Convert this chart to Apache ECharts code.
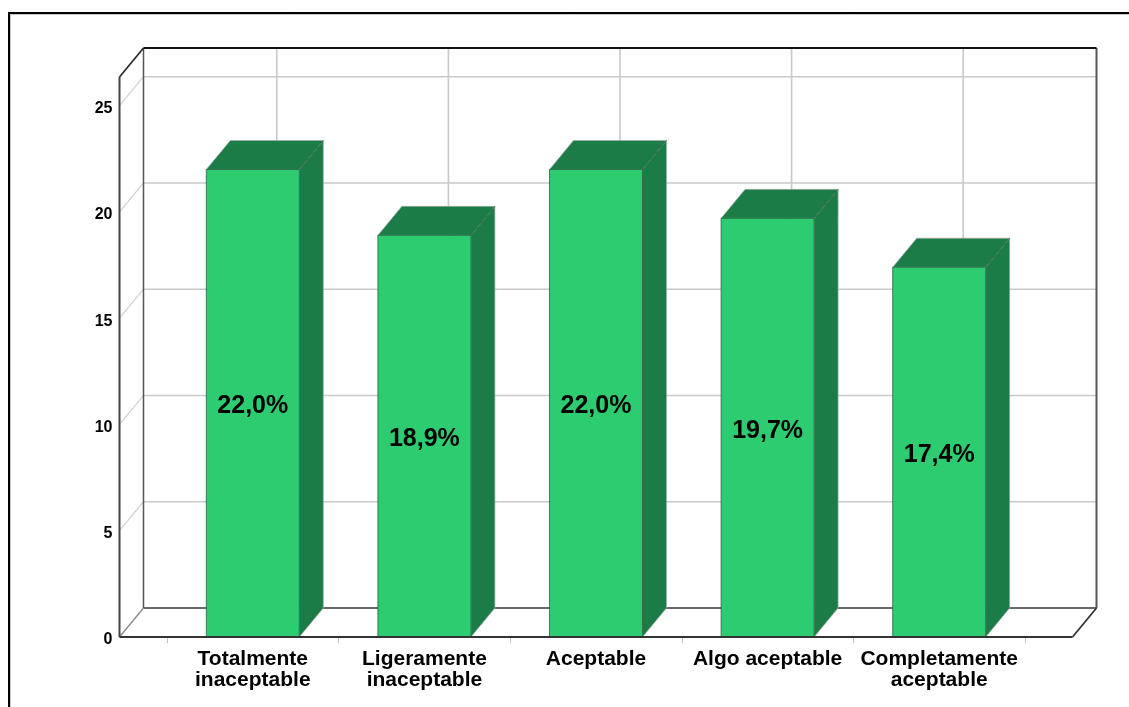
<!DOCTYPE html>
<html>
<head>
<meta charset="utf-8">
<style>html,body{margin:0;padding:0;background:#fff}#c{width:1129px;height:707px}</style>
<script src="https://cdn.jsdelivr.net/npm/echarts@6/dist/echarts.min.js"></script>
</head>
<body>
<div id="c"></div>
<script>
const categories = ['Totalmente\ninaceptable','Ligeramente\ninaceptable','Aceptable','Algo aceptable','Completamente\naceptable'];
const percentValues = [22.0, 18.9, 22.0, 19.7, 17.4];
const yTickValues = [0, 5, 10, 15, 20, 25];
const yAxisMax = 26.35;

const DX = 24, DY = -29, PAD = 47.5, BAR_W = 93;
const FRONT = '#2ecc71', DARK = '#1c7c47';
const FONT = '"Liberation Sans", Arial, sans-serif';

function frameBox(api) {
  const band = api.size([1, 0])[0];
  const l = api.coord([0, 0])[0] - band / 2 - PAD;
  const r = api.coord([categories.length - 1, 0])[0] + band / 2 + PAD;
  return { l, r, y0: api.coord([0, 0])[1], yT: api.coord([0, yAxisMax])[1] };
}
const seg = (x1, y1, x2, y2, stroke, lineWidth) => ({
  type: 'line', shape: { x1, y1, x2, y2 }, style: { stroke, lineWidth, fill: null }
});

function renderWalls(params, api) {
  const b = frameBox(api), ch = [];
  yTickValues.slice(1).forEach(v => {
    const y = api.coord([0, v])[1];
    ch.push(seg(b.l, y, b.l + DX, y + DY, '#cfcfcf', 1.2));
    ch.push(seg(b.l + DX, y + DY, b.r + DX, y + DY, '#c9c9c9', 1.6));
  });
  categories.forEach((c, i) => {
    const x = api.coord([i, 0])[0] + DX;
    ch.push(seg(x, b.yT + DY, x, b.y0 + DY, '#c9c9c9', 1.6));
  });
  ch.push(seg(b.l + DX, b.y0 + DY, b.r + DX, b.y0 + DY, '#6a6a6a', 2));
  ch.push(seg(b.l, b.y0, b.l + DX, b.y0 + DY, '#8a8a8a', 1.4));
  ch.push(seg(b.l + DX, b.yT + DY, b.l + DX, b.y0 + DY, '#555', 1.5));
  ch.push(seg(b.r + DX, b.yT + DY, b.r + DX, b.y0 + DY, '#555', 2));
  ch.push(seg(b.l + DX, b.yT + DY, b.r + DX, b.yT + DY, '#111', 1.8));
  ch.push(seg(b.l, b.yT, b.l + DX, b.yT + DY, '#222', 1.6));
  ch.push(seg(b.l, b.yT, b.l, b.y0, '#444', 2));
  return { type: 'group', children: ch };
}

function renderBar(params, api) {
  const i = api.value(0), v = api.value(1);
  const cx = api.coord([i, 0])[0];
  const y0 = api.coord([i, 0])[1], y1 = api.coord([i, v])[1];
  const l = cx - BAR_W / 2, r = cx + BAR_W / 2;
  const edge = 'rgba(18,84,48,.7)', halo = 'rgba(165,172,168,.7)';
  return { type: 'group', children: [
    { type: 'polygon', shape: { points: [[r, y1], [r + DX, y1 + DY], [r + DX, y0 + DY], [r, y0]] },
      style: { fill: DARK, stroke: halo, lineWidth: 1 } },
    { type: 'polygon', shape: { points: [[l, y1], [l + DX, y1 + DY], [r + DX, y1 + DY], [r, y1]] },
      style: { fill: DARK, stroke: halo, lineWidth: 1 } },
    seg(r, y1, r + DX, y1 + DY, edge, 1),
    { type: 'polygon', shape: { points: [[l, y1], [r, y1], [r, y0], [l, y0]] },
      style: { fill: FRONT, stroke: edge, lineWidth: 1 } },
    { type: 'text', style: {
        x: cx, y: (y0 + y1) / 2 + 3,
        text: v.toFixed(1).replace('.', ',') + '%',
        fontFamily: FONT, fontWeight: 'bold', fontSize: 25,
        fill: '#000', align: 'center', verticalAlign: 'middle' } }
  ]};
}

function renderFront(params, api) {
  const b = frameBox(api);
  return { type: 'group', children: [
    seg(b.l, b.y0, b.r, b.y0, '#333', 2),
    seg(b.r, b.y0, b.r + DX, b.y0 + DY, '#333', 1.8)
  ]};
}

const chart = echarts.init(document.getElementById('c'), null, { renderer: 'canvas' });
chart.setOption({
  animation: false,
  backgroundColor: '#fff',
  graphic: [
    { type: 'polyline', silent: true, shape: { points: [[10.5, 707], [10.5, 14.5], [1129, 14.5]] },
      style: { stroke: '#c4c4c4', lineWidth: 1, fill: null } },
    { type: 'polyline', silent: true, shape: { points: [[9, 707], [9, 13], [1129, 13]] },
      style: { stroke: '#000', lineWidth: 2, fill: null } }
  ],
  grid: { left: 167, top: 77, width: 858, height: 560, containLabel: false },
  xAxis: {
    type: 'category', data: categories,
    axisLine: { show: false },
    axisTick: { show: true, alignWithLabel: false, length: 6, lineStyle: { color: '#c4c4c4', width: 1 } },
    axisLabel: { interval: 0, color: '#000', fontFamily: FONT, fontWeight: 'bold', fontSize: 21, lineHeight: 21, margin: 12 },
    splitLine: { show: false }
  },
  yAxis: {
    type: 'value', min: 0, max: yAxisMax, interval: 5, offset: PAD,
    axisLine: { show: false }, axisTick: { show: false }, splitLine: { show: false },
    axisLabel: {
      showMaxLabel: false, color: '#000', fontFamily: FONT, fontWeight: 'bold', fontSize: 16, margin: 7,
      verticalAlign: 'top', lineHeight: 6,
      formatter: v => yTickValues.includes(v) ? String(v) : ''
    }
  },
  series: [
    { type: 'custom', z: 1, silent: true, renderItem: renderWalls, data: [[0, 0]], clip: false },
    { type: 'custom', z: 2, silent: true, renderItem: renderBar, clip: false,
      data: percentValues.map((v, i) => [i, v]), encode: { x: 0, y: 1 } },
    { type: 'custom', z: 3, silent: true, renderItem: renderFront, data: [[0, 0]], clip: false }
  ]
});
</script>
</body>
</html>
